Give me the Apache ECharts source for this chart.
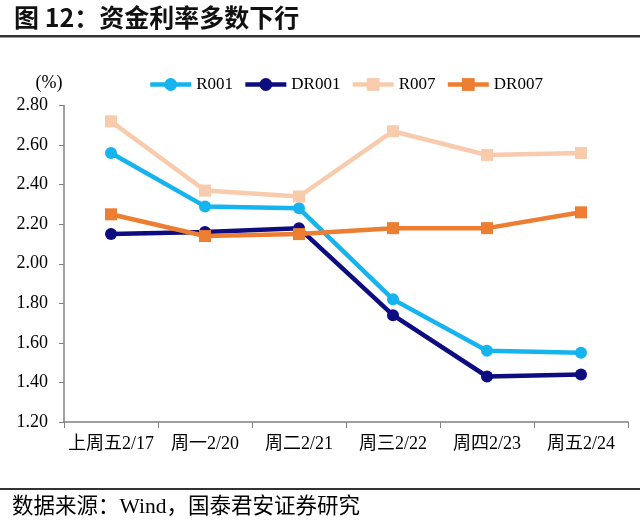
<!DOCTYPE html>
<html>
<head>
<meta charset="utf-8">
<script src="https://cdn.jsdelivr.net/npm/echarts@6/dist/echarts.min.js"></script>
<style>
html,body{margin:0;padding:0;background:#fff;}
#chart{width:640px;height:525px;}
</style>
</head>
<body>
<div id="chart"></div>
<script>
const categories = ['上周五2/17', '周一2/20', '周二2/21', '周三2/22', '周四2/23', '周五2/24'];
const r001 = [2.56, 2.29, 2.28, 1.82, 1.56, 1.55];
const dr001 = [2.15, 2.16, 2.18, 1.74, 1.43, 1.44];
const r007 = [2.72, 2.37, 2.34, 2.67, 2.55, 2.56];
const dr007 = [2.25, 2.14, 2.15, 2.18, 2.18, 2.26];
const yMin = 1.2, yMax = 2.8, yStep = 0.2;

const serif = '"Liberation Serif", "Noto Sans CJK SC", serif';
const chart = echarts.init(document.getElementById('chart'));

function mk(name, data, color, symbol) {
  return {
    name: name, type: 'line', data: data,
    symbol: symbol, symbolSize: 12,
    lineStyle: {color: color, width: 4.5},
    itemStyle: {color: color},
    emphasis: {disabled: true},
    animation: false
  };
}

chart.setOption({
  backgroundColor: '#fff',
  animation: false,
  grid: {left: 64, right: 12, top: 105.5, bottom: 103},
  legend: {
    left: 143, top: 71,
    itemWidth: 41, itemHeight: 16, itemGap: 10,
    lineStyle: {width: 4.5},
    textStyle: {fontFamily: serif, fontSize: 17, color: '#000'},
    data: ['R001', 'DR001', 'R007', 'DR007']
  },
  xAxis: {
    type: 'category', data: categories, boundaryGap: true,
    axisLine: {lineStyle: {color: '#808080', width: 1.5}},
    axisTick: {show: true, interval: 0, length: 6, lineStyle: {color: '#808080'}},
    axisLabel: {interval: 0, fontFamily: serif, fontSize: 18, color: '#000', margin: 13}
  },
  yAxis: {
    type: 'value', min: yMin, max: yMax, interval: yStep,
    name: '(%)', nameLocation: 'end', nameGap: 13,
    nameTextStyle: {fontFamily: serif, fontSize: 18, color: '#000', align: 'center', padding: [0, 0, 0, -30]},
    splitLine: {show: false},
    axisLine: {show: true, lineStyle: {color: '#808080', width: 1.5}},
    axisTick: {show: true, length: 5, lineStyle: {color: '#808080'}},
    axisLabel: {fontFamily: serif, fontSize: 18, color: '#000', margin: 16,
      formatter: v => v.toFixed(2)}
  },
  series: [
    mk('R001', r001, '#16B4EE', 'circle'),
    mk('DR001', dr001, '#0D0C80', 'circle'),
    mk('R007', r007, '#F8CBAD', 'rect'),
    mk('DR007', dr007, '#ED7D31', 'rect')
  ],
  graphic: [
    {type: 'text', left: 14, top: 5, style: {text: '图 12：资金利率多数下行', font: 'bold 25px "Noto Sans CJK SC", sans-serif', fill: '#111'}},
    {type: 'rect', shape: {x: 0, y: 35, width: 640, height: 2.5}, style: {fill: '#333'}},
    {type: 'rect', shape: {x: 0, y: 488, width: 640, height: 2}, style: {fill: '#333'}},
    {type: 'text', left: 12, top: 497, style: {text: '数据来源：Wind，国泰君安证券研究', font: '21.5px "Liberation Serif", "Noto Sans CJK SC", serif', fill: '#000'}}
  ]
});
</script>
</body>
</html>
